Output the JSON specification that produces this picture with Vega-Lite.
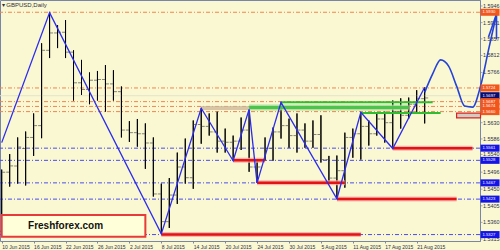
{
  "$schema": "https://vega.github.io/schema/vega-lite/v6.json",
  "width": 480,
  "height": 241,
  "autosize": {"type": "none"},
  "padding": {"left": 0, "top": 0, "right": 20, "bottom": 9},
  "background": "#FAF8D2",
  "config": {
    "view": {"stroke": "#7A86A8", "strokeWidth": 1},
    "font": "Liberation Sans",
    "axis": {"grid": false, "labelFont": "Liberation Sans", "labelFontSize": 5.4, "labelColor": "#2E2E48", "tickSize": 2, "tickColor": "#7A86A8", "domainColor": "#7A86A8", "labelOverlap": false}
  },
  "datasets": {
    "bars": [
      {"d":"2015-06-10","o":1.5336,"h":1.5503,"l":1.5322,"c":1.5496},
      {"d":"2015-06-11","o":1.5496,"h":1.5545,"l":1.5457,"c":1.5513},
      {"d":"2015-06-12","o":1.5513,"h":1.5590,"l":1.5465,"c":1.5564},
      {"d":"2015-06-15","o":1.5560,"h":1.5606,"l":1.5460,"c":1.5590},
      {"d":"2015-06-16","o":1.5590,"h":1.5655,"l":1.5540,"c":1.5622},
      {"d":"2015-06-17","o":1.5622,"h":1.5845,"l":1.5588,"c":1.5826},
      {"d":"2015-06-18","o":1.5826,"h":1.5928,"l":1.5805,"c":1.5873},
      {"d":"2015-06-19","o":1.5873,"h":1.5894,"l":1.5832,"c":1.5875},
      {"d":"2015-06-22","o":1.5875,"h":1.5908,"l":1.5805,"c":1.5821},
      {"d":"2015-06-23","o":1.5821,"h":1.5826,"l":1.5690,"c":1.5738},
      {"d":"2015-06-24","o":1.5738,"h":1.5800,"l":1.5705,"c":1.5720},
      {"d":"2015-06-25","o":1.5720,"h":1.5766,"l":1.5680,"c":1.5745},
      {"d":"2015-06-26","o":1.5745,"h":1.5770,"l":1.5690,"c":1.5747},
      {"d":"2015-06-29","o":1.5747,"h":1.5786,"l":1.5660,"c":1.5735},
      {"d":"2015-06-30","o":1.5735,"h":1.5772,"l":1.5690,"c":1.5714},
      {"d":"2015-07-01","o":1.5714,"h":1.5728,"l":1.5590,"c":1.5610},
      {"d":"2015-07-02","o":1.5610,"h":1.5634,"l":1.5578,"c":1.5603},
      {"d":"2015-07-03","o":1.5603,"h":1.5640,"l":1.5565,"c":1.5600},
      {"d":"2015-07-06","o":1.5600,"h":1.5628,"l":1.5505,"c":1.5575},
      {"d":"2015-07-07","o":1.5575,"h":1.5590,"l":1.5430,"c":1.5437},
      {"d":"2015-07-08","o":1.5437,"h":1.5465,"l":1.5329,"c":1.5362},
      {"d":"2015-07-09","o":1.5362,"h":1.5480,"l":1.5345,"c":1.5434},
      {"d":"2015-07-10","o":1.5434,"h":1.5549,"l":1.5410,"c":1.5510},
      {"d":"2015-07-13","o":1.5510,"h":1.5587,"l":1.5465,"c":1.5481},
      {"d":"2015-07-14","o":1.5481,"h":1.5636,"l":1.5451,"c":1.5625},
      {"d":"2015-07-15","o":1.5625,"h":1.5669,"l":1.5573,"c":1.5620},
      {"d":"2015-07-16","o":1.5620,"h":1.5655,"l":1.5595,"c":1.5605},
      {"d":"2015-07-17","o":1.5605,"h":1.5660,"l":1.5549,"c":1.5580},
      {"d":"2015-07-20","o":1.5580,"h":1.5614,"l":1.5549,"c":1.5577},
      {"d":"2015-07-21","o":1.5577,"h":1.5595,"l":1.5527,"c":1.5580},
      {"d":"2015-07-22","o":1.5580,"h":1.5644,"l":1.5556,"c":1.5610},
      {"d":"2015-07-23","o":1.5610,"h":1.5666,"l":1.5497,"c":1.5510},
      {"d":"2015-07-24","o":1.5510,"h":1.5525,"l":1.5467,"c":1.5510},
      {"d":"2015-07-27","o":1.5530,"h":1.5590,"l":1.5527,"c":1.5560},
      {"d":"2015-07-28","o":1.5560,"h":1.5617,"l":1.5527,"c":1.5605},
      {"d":"2015-07-29","o":1.5605,"h":1.5685,"l":1.5587,"c":1.5622},
      {"d":"2015-07-30","o":1.5622,"h":1.5641,"l":1.5562,"c":1.5595},
      {"d":"2015-07-31","o":1.5595,"h":1.5655,"l":1.5549,"c":1.5610},
      {"d":"2015-08-03","o":1.5610,"h":1.5628,"l":1.5562,"c":1.5580},
      {"d":"2015-08-04","o":1.5580,"h":1.5636,"l":1.5562,"c":1.5598},
      {"d":"2015-08-05","o":1.5598,"h":1.5650,"l":1.5522,"c":1.5530},
      {"d":"2015-08-06","o":1.5530,"h":1.5540,"l":1.5467,"c":1.5480},
      {"d":"2015-08-07","o":1.5480,"h":1.5541,"l":1.5424,"c":1.5500},
      {"d":"2015-08-10","o":1.5500,"h":1.5603,"l":1.5454,"c":1.5590},
      {"d":"2015-08-11","o":1.5590,"h":1.5614,"l":1.5535,"c":1.5600},
      {"d":"2015-08-12","o":1.5600,"h":1.5658,"l":1.5530,"c":1.5620},
      {"d":"2015-08-13","o":1.5620,"h":1.5636,"l":1.5568,"c":1.5600},
      {"d":"2015-08-14","o":1.5600,"h":1.5655,"l":1.5595,"c":1.5640},
      {"d":"2015-08-17","o":1.5640,"h":1.5660,"l":1.5576,"c":1.5630},
      {"d":"2015-08-18","o":1.5630,"h":1.5690,"l":1.5560,"c":1.5660},
      {"d":"2015-08-19","o":1.5660,"h":1.5696,"l":1.5614,"c":1.5650},
      {"d":"2015-08-20","o":1.5650,"h":1.5698,"l":1.5641,"c":1.5680},
      {"d":"2015-08-21","o":1.5680,"h":1.5718,"l":1.5655,"c":1.5695},
      {"d":"2015-08-24","o":1.5695,"h":1.5726,"l":1.5628,"c":1.5697}
    ],
    "levels": [
      {"p":1.5929,"kind":"res","label":"1.5930"},
      {"p":1.5724,"kind":"res","label":"1.5724"},
      {"p":1.5703,"kind":"cur","label":"1.5697"},
      {"p":1.5687,"kind":"res","label":"1.5687"},
      {"p":1.5674,"kind":"res","label":"1.5674"},
      {"p":1.5660,"kind":"res","label":"1.5660"},
      {"p":1.5561,"kind":"sup","label":"1.5561"},
      {"p":1.5528,"kind":"sup","label":"1.5528"},
      {"p":1.5467,"kind":"sup","label":"1.5467"},
      {"p":1.5423,"kind":"sup","label":"1.5423"},
      {"p":1.5327,"kind":"sup","label":"1.5327"}
    ],
    "segs": [
      {"kind":"tan","d1":"2015-07-15","d2":"2015-07-23","p":1.5670},
      {"kind":"g1","d1":"2015-07-23","d2":"2015-08-20","p":1.5671},
      {"kind":"g2","d1":"2015-07-29","d2":"2015-08-25","p":1.5685},
      {"kind":"g3","d1":"2015-08-12","d2":"2015-08-26","p":1.5656},
      {"kind":"red","d1":"2015-08-18","d2":"2015-09-01","p":1.5561},
      {"kind":"red","d1":"2015-07-24","d2":"2015-08-10","p":1.5467},
      {"kind":"red","d1":"2015-08-07","d2":"2015-08-28","p":1.5423},
      {"kind":"red","d1":"2015-07-08","d2":"2015-08-12","p":1.5327},
      {"kind":"red","d1":"2015-07-21","d2":"2015-07-27","p":1.5528}
    ],
    "zig": [
      {"d":"2015-06-10","p":1.5576},
      {"d":"2015-06-18","p":1.5928},
      {"d":"2015-07-08","p":1.5329},
      {"d":"2015-07-15","p":1.5669},
      {"d":"2015-07-21","p":1.5527},
      {"d":"2015-07-23","p":1.5666},
      {"d":"2015-07-24","p":1.5467},
      {"d":"2015-07-29","p":1.5685},
      {"d":"2015-08-07","p":1.5424},
      {"d":"2015-08-12","p":1.5658},
      {"d":"2015-08-18","p":1.5560},
      {"d":"2015-08-24","p":1.5726}
    ],
    "proj": [
      {"d":"2015-08-24","p":1.5712},
      {"d":"2015-08-25","p":1.5762},
      {"d":"2015-08-26","p":1.5800},
      {"d":"2015-08-27","p":1.5783},
      {"d":"2015-08-28","p":1.5729},
      {"d":"2015-08-31","p":1.5675},
      {"d":"2015-09-01","p":1.5672},
      {"d":"2015-09-02","p":1.5729},
      {"d":"2015-09-03","p":1.5827},
      {"d":"2015-09-04","p":1.5924}
    ],
    "arrow": [
      {"d1":"2015-09-03","p1":1.5862,"d2":"2015-09-04","p2":1.5924},
      {"d1":"2015-09-04","p1":1.5856,"d2":"2015-09-04","p2":1.5924}
    ],
    "boxes": [
      {"kind":"zone","d1":"2015-08-28","d2":"2015-09-02","p1":1.5643,"p2":1.5656},
      {"kind":"logo","d1":"2015-06-10","d2":"2015-07-06","p1":1.5321,"p2":1.5380}
    ],
    "texts": [
      {"kind":"logo","d":"2015-06-22","p":1.5350,"t":"Freshforex.com"},
      {"kind":"title","d":"2015-06-10","p":1.5949,"t":"▾ GBPUSD,Daily"}
    ],
    "yticks": [
      {"p":1.5946,"label":"1.5946"},{"p":1.5901,"label":"1.5901"},{"p":1.5857,"label":"1.5857"},{"p":1.5812,"label":"1.5812"},
      {"p":1.5766,"label":"1.5766"},{"p":1.5630,"label":"1.5630"},{"p":1.5586,"label":"1.5586"},{"p":1.5544,"label":"1.5540"},
      {"p":1.5496,"label":"1.5496"},{"p":1.5450,"label":"1.5450"},{"p":1.5405,"label":"1.5405"},{"p":1.5360,"label":"1.5360"},
      {"p":1.5315,"label":"1.5315"}
    ]
  },
  "layer": [
    {
      "data": {"name": "bars"},
      "mark": {"type": "rule", "color": "#000000", "strokeWidth": 1},
      "encoding": {
        "x": {
          "field": "d", "type": "ordinal", "title": null,
          "scale": {
            "type": "point", "padding": 0, "range": [1.7, 496.5],
            "domain": ["2015-06-10","2015-06-11","2015-06-12","2015-06-15","2015-06-16","2015-06-17","2015-06-18","2015-06-19","2015-06-22","2015-06-23","2015-06-24","2015-06-25","2015-06-26","2015-06-29","2015-06-30","2015-07-01","2015-07-02","2015-07-03","2015-07-06","2015-07-07","2015-07-08","2015-07-09","2015-07-10","2015-07-13","2015-07-14","2015-07-15","2015-07-16","2015-07-17","2015-07-20","2015-07-21","2015-07-22","2015-07-23","2015-07-24","2015-07-27","2015-07-28","2015-07-29","2015-07-30","2015-07-31","2015-08-03","2015-08-04","2015-08-05","2015-08-06","2015-08-07","2015-08-10","2015-08-11","2015-08-12","2015-08-13","2015-08-14","2015-08-17","2015-08-18","2015-08-19","2015-08-20","2015-08-21","2015-08-24","2015-08-25","2015-08-26","2015-08-27","2015-08-28","2015-08-31","2015-09-01","2015-09-02","2015-09-03","2015-09-04"]
          },
          "axis": {
            "title": null, "domain": false,
            "values": ["2015-06-10","2015-06-16","2015-06-22","2015-06-26","2015-07-02","2015-07-08","2015-07-14","2015-07-20","2015-07-24","2015-07-30","2015-08-05","2015-08-11","2015-08-17","2015-08-21"],
            "labelExpr": "utcFormat(toDate(datum.value), '%-d %b %Y')",
            "labelAlign": "left", "labelAngle": 0, "labelPadding": 1, "labelOverlap": false, "labelFontSize": 5
          }
        },
        "y": {
          "field": "l", "type": "quantitative", "title": null,
          "scale": {"domain": [1.53096, 1.59622], "zero": false, "nice": false},
          "axis": {
            "title": null, "orient": "right", "labels": false, "ticks": false,
            "values": [1.5946, 1.5901, 1.5857, 1.5812, 1.5766, 1.5630, 1.5586, 1.5540, 1.5496, 1.5450, 1.5405, 1.5360, 1.5315]
          }
        },
        "y2": {"field": "h"}
      }
    },
    {
      "data": {"name": "levels"},
      "transform": [{"filter": "datum.kind == 'res'"}],
      "mark": {"type": "rule", "color": "#F2844E", "strokeWidth": 1, "strokeDash": [4, 2, 1, 2]},
      "encoding": {"y": {"field": "p", "type": "quantitative", "title": null}}
    },
    {
      "data": {"name": "levels"},
      "transform": [{"filter": "datum.kind == 'sup'"}],
      "mark": {"type": "rule", "color": "#4B4BF2", "strokeWidth": 1, "strokeDash": [4, 2, 1, 2]},
      "encoding": {"y": {"field": "p", "type": "quantitative", "title": null}}
    },
    {
      "data": {"name": "levels"},
      "transform": [{"filter": "datum.kind == 'cur'"}],
      "mark": {"type": "rule", "color": "#E4E2C8", "strokeWidth": 1},
      "encoding": {"y": {"field": "p", "type": "quantitative", "title": null}}
    },
    {
      "data": {"name": "bars"},
      "mark": {"type": "rule", "color": "#000000", "strokeWidth": 1},
      "encoding": {
        "x": {"field": "d", "type": "ordinal", "title": null},
        "y": {"field": "l", "type": "quantitative", "title": null},
        "y2": {"field": "h"}
      }
    },
    {
      "data": {"name": "bars"},
      "mark": {"type": "tick", "color": "#505050", "size": 3, "thickness": 1, "xOffset": -2},
      "encoding": {
        "x": {"field": "d", "type": "ordinal", "title": null},
        "y": {"field": "o", "type": "quantitative", "title": null}
      }
    },
    {
      "data": {"name": "bars"},
      "mark": {"type": "tick", "color": "#505050", "size": 3, "thickness": 1, "xOffset": 2},
      "encoding": {
        "x": {"field": "d", "type": "ordinal", "title": null},
        "y": {"field": "c", "type": "quantitative", "title": null}
      }
    },
    {
      "data": {"name": "segs"},
      "transform": [{"filter": "datum.kind == 'tan'"}],
      "mark": {"type": "rule", "color": "#C9B595", "strokeWidth": 4, "opacity": 0.75},
      "encoding": {
        "x": {"field": "d1", "type": "ordinal", "title": null}, "x2": {"field": "d2"},
        "y": {"field": "p", "type": "quantitative", "title": null}
      }
    },
    {
      "data": {"name": "segs"},
      "transform": [{"filter": "datum.kind == 'g1'"}],
      "mark": {"type": "rule", "color": "#9EDC96", "strokeWidth": 6, "opacity": 0.8},
      "encoding": {
        "x": {"field": "d1", "type": "ordinal", "title": null}, "x2": {"field": "d2"},
        "y": {"field": "p", "type": "quantitative", "title": null}
      }
    },
    {
      "data": {"name": "segs"},
      "transform": [{"filter": "datum.kind == 'g1'"}],
      "mark": {"type": "rule", "color": "#4CC44C", "strokeWidth": 3},
      "encoding": {
        "x": {"field": "d1", "type": "ordinal", "title": null}, "x2": {"field": "d2"},
        "y": {"field": "p", "type": "quantitative", "title": null}
      }
    },
    {
      "data": {"name": "segs"},
      "transform": [{"filter": "datum.kind == 'g2' || datum.kind == 'g3'"}],
      "mark": {"type": "rule", "color": "#30BE30", "strokeWidth": 2},
      "encoding": {
        "x": {"field": "d1", "type": "ordinal", "title": null}, "x2": {"field": "d2"},
        "y": {"field": "p", "type": "quantitative", "title": null}
      }
    },
    {
      "data": {"name": "segs"},
      "transform": [{"filter": "datum.kind == 'red'"}],
      "mark": {"type": "rule", "color": "#F4A8A8", "strokeWidth": 5, "opacity": 0.8},
      "encoding": {
        "x": {"field": "d1", "type": "ordinal", "title": null}, "x2": {"field": "d2"},
        "y": {"field": "p", "type": "quantitative", "title": null}
      }
    },
    {
      "data": {"name": "segs"},
      "transform": [{"filter": "datum.kind == 'red'"}],
      "mark": {"type": "rule", "color": "#E41212", "strokeWidth": 2.5},
      "encoding": {
        "x": {"field": "d1", "type": "ordinal", "title": null}, "x2": {"field": "d2"},
        "y": {"field": "p", "type": "quantitative", "title": null}
      }
    },
    {
      "data": {"name": "boxes"},
      "transform": [{"filter": "datum.kind == 'zone'"}],
      "mark": {"type": "rect", "fill": "#CFCDC2", "stroke": "#E02020", "strokeWidth": 1.2},
      "encoding": {
        "x": {"field": "d1", "type": "ordinal", "title": null}, "x2": {"field": "d2"},
        "y": {"field": "p1", "type": "quantitative", "title": null}, "y2": {"field": "p2"}
      }
    },
    {
      "data": {"name": "zig"},
      "mark": {"type": "line", "color": "#2B2BF0", "strokeWidth": 1.3},
      "encoding": {
        "x": {"field": "d", "type": "ordinal", "title": null},
        "y": {"field": "p", "type": "quantitative", "title": null}
      }
    },
    {
      "data": {"name": "yticks"},
      "mark": {"type": "tick", "color": "#7A86A8", "size": 2, "thickness": 1, "xOffset": 1},
      "encoding": {
        "x": {"datum": "2015-09-02", "type": "ordinal", "title": null},
        "y": {"field": "p", "type": "quantitative", "title": null}
      }
    },
    {
      "data": {"name": "yticks"},
      "mark": {"type": "text", "align": "left", "baseline": "middle", "dx": 2.5, "fontSize": 5.4, "color": "#2E2E48", "font": "Liberation Sans"},
      "encoding": {
        "x": {"datum": "2015-09-02", "type": "ordinal", "title": null},
        "y": {"field": "p", "type": "quantitative", "title": null},
        "text": {"field": "label"}
      }
    },
    {
      "data": {"name": "proj"},
      "mark": {"type": "line", "color": "#2442D8", "strokeWidth": 1.6, "interpolate": "monotone"},
      "encoding": {
        "x": {"field": "d", "type": "ordinal", "title": null},
        "y": {"field": "p", "type": "quantitative", "title": null}
      }
    },
    {
      "data": {"name": "arrow"},
      "mark": {"type": "rule", "color": "#2442D8", "strokeWidth": 1.6},
      "encoding": {
        "x": {"field": "d1", "type": "ordinal", "title": null}, "x2": {"field": "d2"},
        "y": {"field": "p1", "type": "quantitative", "title": null}, "y2": {"field": "p2"}
      }
    },
    {
      "data": {"name": "boxes"},
      "transform": [{"filter": "datum.kind == 'logo'"}],
      "mark": {"type": "rect", "fill": "#FFFFDA", "stroke": "#E83A3A", "strokeWidth": 2},
      "encoding": {
        "x": {"field": "d1", "type": "ordinal", "title": null}, "x2": {"field": "d2"},
        "y": {"field": "p1", "type": "quantitative", "title": null}, "y2": {"field": "p2"}
      }
    },
    {
      "data": {"name": "texts"},
      "transform": [{"filter": "datum.kind == 'logo'"}],
      "mark": {"type": "text", "font": "Liberation Sans", "fontSize": 10, "fontWeight": "bold", "color": "#111111", "align": "center", "baseline": "middle"},
      "encoding": {
        "x": {"field": "d", "type": "ordinal", "title": null},
        "y": {"field": "p", "type": "quantitative", "title": null},
        "text": {"field": "t"}
      }
    },
    {
      "data": {"name": "texts"},
      "transform": [{"filter": "datum.kind == 'title'"}],
      "mark": {"type": "text", "font": "Liberation Sans", "fontSize": 6, "color": "#303040", "align": "left", "baseline": "middle"},
      "encoding": {
        "x": {"field": "d", "type": "ordinal", "title": null},
        "y": {"field": "p", "type": "quantitative", "title": null},
        "text": {"field": "t"}
      }
    },
    {
      "data": {"name": "levels"},
      "mark": {"type": "point", "shape": "M0,-0.37L2,-0.37L2,0.37L0,0.37Z", "size": 361, "filled": true, "opacity": 1, "strokeWidth": 0},
      "encoding": {
        "x": {"datum": "2015-09-02", "type": "ordinal", "title": null},
        "y": {"field": "p", "type": "quantitative", "title": null},
        "color": {"field": "kind", "type": "nominal", "legend": null, "scale": {"domain": ["res", "sup", "cur"], "range": ["#F2561D", "#1414E6", "#0A0A70"]}}
      }
    },
    {
      "data": {"name": "levels"},
      "mark": {"type": "text", "align": "left", "baseline": "middle", "dx": 2, "fontSize": 4.2, "color": "#FFFFFF", "font": "Liberation Sans"},
      "encoding": {
        "x": {"datum": "2015-09-02", "type": "ordinal", "title": null},
        "y": {"field": "p", "type": "quantitative", "title": null},
        "text": {"field": "label"}
      }
    }
  ]
}
